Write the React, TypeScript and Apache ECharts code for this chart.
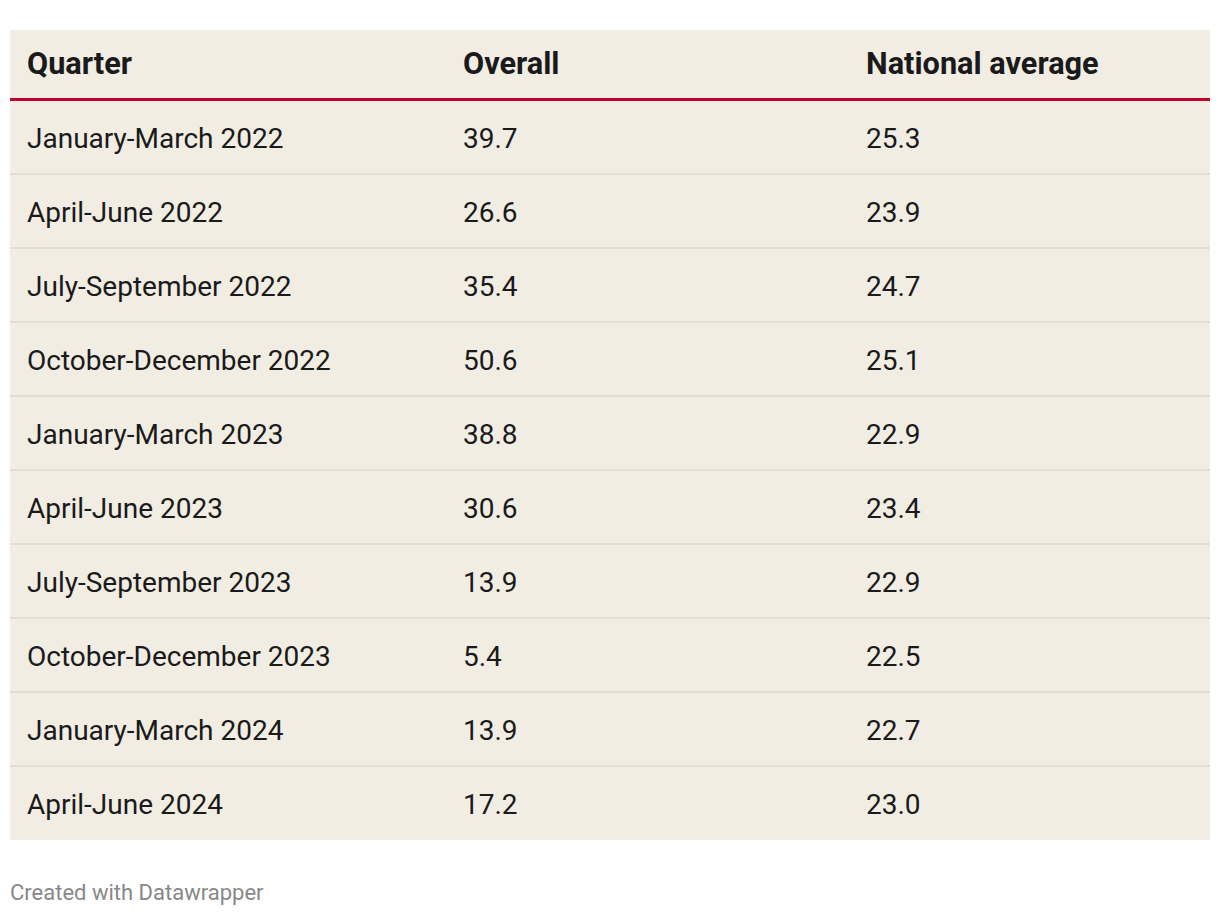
import React, { useEffect, useRef } from "react";
import * as echarts from "echarts";

const headers = ["Quarter", "Overall", "National average"];
const quarters = [
  "January-March 2022",
  "April-June 2022",
  "July-September 2022",
  "October-December 2022",
  "January-March 2023",
  "April-June 2023",
  "July-September 2023",
  "October-December 2023",
  "January-March 2024",
  "April-June 2024",
];
const overall = ["39.7", "26.6", "35.4", "50.6", "38.8", "30.6", "13.9", "5.4", "13.9", "17.2"];
const national = ["25.3", "23.9", "24.7", "25.1", "22.9", "23.4", "22.9", "22.5", "22.7", "23.0"];
const footer = "Created with Datawrapper";

export default function App() {
  const ref = useRef<HTMLDivElement>(null);
  useEffect(() => {
    document.body.style.margin = "0";
    const chart = echarts.init(ref.current!, null, { renderer: "svg" });
    const left = 10;
    const right = 1210;
    const top = 30;
    const headerH = 70;
    const rowH = 74;
    const colX = [27, 463, 866];
    const font = "Roboto, 'Noto Sans', sans-serif";
    const els: any[] = [];
    const bottom = top + headerH + rowH * quarters.length;
    els.push({
      type: "rect",
      shape: { x: left, y: top, width: right - left, height: bottom - top },
      style: { fill: "#f1ede3" },
      silent: true,
    });
    headers.forEach((h, i) => {
      els.push({
        type: "text",
        x: colX[i],
        y: top + 33,
        style: {
          text: h,
          fill: "#1a1a1a",
          font: `bold 30.7px ${font}`,
          verticalAlign: "middle",
        },
      });
    });
    quarters.forEach((q, r) => {
      const yTop = top + headerH + r * rowH;
      if (r > 0) {
        els.push({
          type: "rect",
          shape: { x: left, y: yTop - 1, width: right - left, height: 2 },
          style: { fill: "#e0ddd5" },
          silent: true,
        });
      }
      const vals = [q, overall[r], national[r]];
      vals.forEach((v, i) => {
        els.push({
          type: "text",
          x: colX[i],
          y: yTop + 38,
          style: {
            text: v,
            fill: "#1a1a1a",
            font: `28px ${font}`,
            verticalAlign: "middle",
          },
        });
      });
    });
    els.push({
      type: "rect",
      shape: { x: left, y: top + headerH - 2, width: right - left, height: 3 },
      style: { fill: "#c0002f" },
      silent: true,
    });
    els.push({
      type: "text",
      x: 10,
      y: 892,
      style: {
        text: footer,
        fill: "#888888",
        font: `22px ${font}`,
        verticalAlign: "middle",
      },
    });
    chart.setOption({
      animation: false,
      backgroundColor: "#ffffff",
      graphic: els,
    });
    return () => chart.dispose();
  }, []);
  return <div ref={ref} style={{ width: 1220, height: 916 }} />;
}
